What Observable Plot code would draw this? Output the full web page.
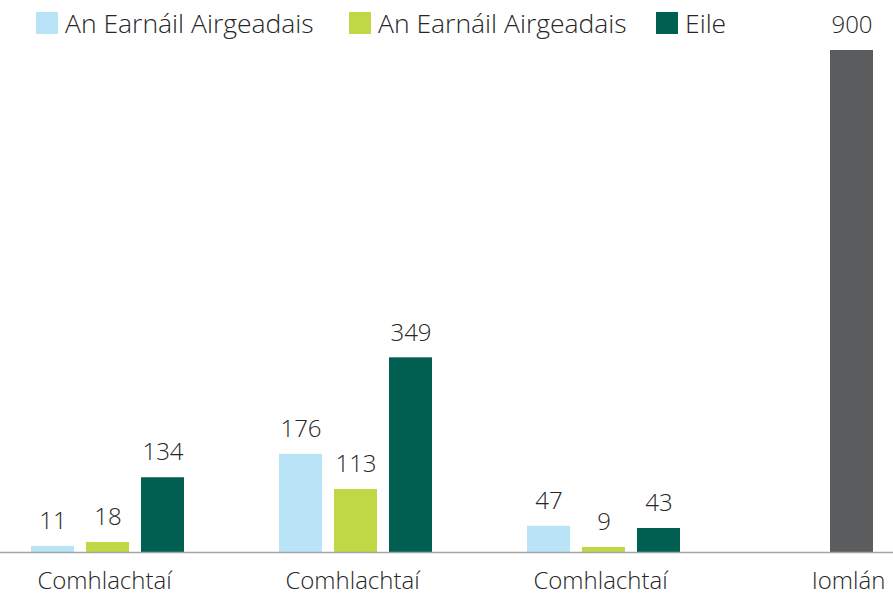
<!DOCTYPE html>
<html>
<head>
<meta charset="utf-8">
<script src="https://cdn.jsdelivr.net/npm/d3@7"></script>
<script src="https://cdn.jsdelivr.net/npm/@observablehq/plot@0.6"></script>
<style>
  html, body { margin: 0; padding: 0; background: #fff; }
  #wrap { position: relative; width: 893px; height: 597px; overflow: hidden; font-family: "Open Sans", sans-serif; }
  #legend { position: absolute; top: 0; left: 0; width: 893px; height: 46px; }
  .item { position: absolute; top: 8px; display: flex; align-items: center; font-size: 26.5px; font-weight: 300; color: #262626; line-height: 30px; white-space: nowrap; }
  .sw { width: 22px; height: 22px; margin-right: 7px; }
</style>
</head>
<body>
<div id="wrap"><div id="legend"></div></div>
<script>
// ---- data ----
const groupKeys = ["g1", "g2", "g3", "g4"];
const groupLabels = ["Comhlachtaí", "Comhlachtaí", "Comhlachtaí", "Iomlán"];
const seriesKeys = ["s1", "s2", "s3"];
const seriesLabels = ["An Earnáil Airgeadais", "An Earnáil Airgeadais", "Eile"];
const seriesColors = ["#b9e4f8", "#c0d846", "#005f50"];
const s1Values = [11, 176, 47];
const s2Values = [18, 113, 9];
const s3Values = [134, 349, 43];
const totalLabel = "Iomlán";
const totalValue = 900;
const totalColor = "#5b5c5e";

// ---- table ----
const rows = [];
[s1Values, s2Values, s3Values].forEach((vals, si) => {
  vals.forEach((v, gi) => rows.push({group: groupKeys[gi], slot: seriesKeys[si], key: seriesKeys[si], value: v}));
});
rows.push({group: groupKeys[3], slot: "s2", key: "total", value: totalValue});

const chart = Plot.plot({
  width: 893,
  height: 597,
  marginTop: 50,
  marginBottom: 45,
  marginLeft: -22,
  marginRight: -80,
  style: {fontFamily: "Open Sans, sans-serif", fontSize: "24px", color: "#262626", background: "transparent"},
  fx: {domain: groupKeys, paddingInner: 0, paddingOuter: 0, tickFormat: (d) => groupLabels[groupKeys.indexOf(d)], label: null, tickSize: 0, tickPadding: 19, axis: "bottom", fontSize: 24},
  x: {domain: seriesKeys, paddingInner: 0.225, paddingOuter: 0.856, align: 0.53, axis: null},
  y: {domain: [0, totalValue], axis: null},
  color: {domain: [...seriesKeys, "total"], range: [...seriesColors, totalColor]},
  marks: [
    Plot.barY(rows, {fx: "group", x: "slot", y: "value", fill: "key"}),
    Plot.ruleY([0], {stroke: "#a6a6a6", strokeWidth: 1.5}),
    Plot.text(rows, {fx: "group", x: "slot", y: "value", text: d => String(d.value), dy: -25, fontSize: 24, fontWeight: 300, fill: "#262626"})
  ]
});
chart.querySelectorAll("text").forEach(t => t.setAttribute("font-weight", "300"));
document.getElementById("wrap").prepend(chart);

// ---- legend ----
const legendLefts = [36, 349, 656];
const legend = document.getElementById("legend");
seriesLabels.forEach((lab, i) => {
  const it = document.createElement("div");
  it.className = "item";
  it.style.left = legendLefts[i] + "px";
  const sw = document.createElement("span");
  sw.className = "sw";
  sw.style.background = seriesColors[i];
  const tx = document.createElement("span");
  tx.textContent = lab;
  it.append(sw, tx);
  legend.append(it);
});
</script>
</body>
</html>
